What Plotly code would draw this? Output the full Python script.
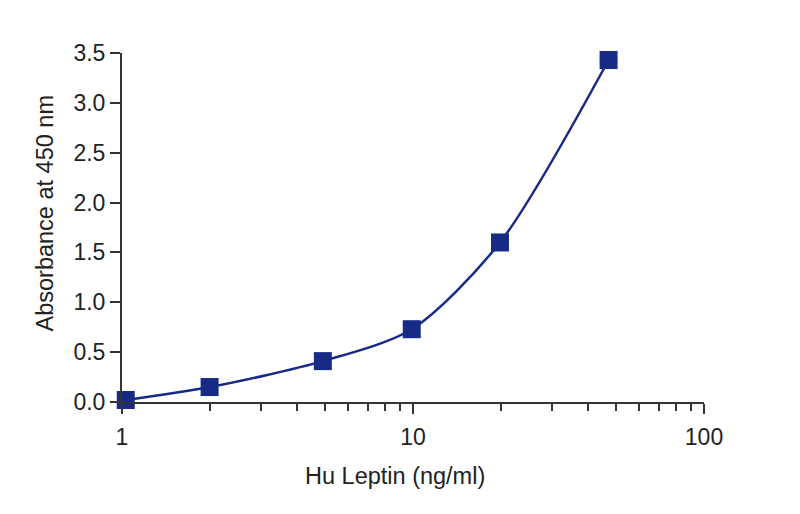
import plotly.graph_objects as go

conc = [1.03, 2.0, 4.9, 9.9, 19.9, 47.0]
absorbance = [0.02, 0.15, 0.41, 0.73, 1.60, 3.43]
x_ticks = [1, 10, 100]
x_tick_labels = ["1", "10", "100"]
y_ticks = [0, 0.5, 1.0, 1.5, 2.0, 2.5, 3.0, 3.5]
y_tick_labels = ["0.0", "0.5", "1.0", "1.5", "2.0", "2.5", "3.0", "3.5"]
x_title = "Hu Leptin (ng/ml)"
y_title = "Absorbance at 450 nm"

navy = "#172a86"
axis_col = "#333333"
font_fam = "Liberation Sans, Arial, sans-serif"

fig = go.Figure()
fig.add_trace(go.Scatter(
    x=conc, y=absorbance, mode="lines+markers",
    line=dict(color=navy, width=2.5, shape="spline", smoothing=0.8),
    marker=dict(symbol="square", size=18, color=navy),
    cliponaxis=False, showlegend=False,
))

fig.update_layout(
    width=800, height=514,
    margin=dict(l=114, r=104, t=45, b=120),
    paper_bgcolor="white", plot_bgcolor="white",
    font=dict(family=font_fam, size=23, color="#222222"),
    xaxis=dict(
        type="log", range=[0, 2],
        tickvals=x_ticks, ticktext=x_tick_labels,
        ticks="outside", ticklen=10, tickwidth=1.8, tickcolor=axis_col,
        showline=True, linecolor=axis_col, linewidth=2,
        showgrid=False, zeroline=False,
        minor=dict(ticks="outside", ticklen=7, tickwidth=1.5, tickcolor=axis_col, dtick="D1", showgrid=False),
        tickfont=dict(size=23),
        ticklabelstandoff=3,
    ),
    yaxis=dict(
        range=[0, 3.5],
        tickvals=y_ticks, ticktext=y_tick_labels,
        ticks="outside", ticklen=10, tickwidth=1.8, tickcolor=axis_col,
        showline=True, linecolor=axis_col, linewidth=2,
        showgrid=False, zeroline=False,
        tickfont=dict(size=23),
    ),
    annotations=[
        dict(text=x_title, xref="paper", yref="paper", x=0.5, y=0,
             xanchor="center", yanchor="top", xshift=-18, yshift=-59,
             showarrow=False, font=dict(size=23.5, color="#222222")),
        dict(text=y_title, xref="paper", yref="paper", x=0, y=0.5,
             xanchor="center", yanchor="middle", xshift=-78, yshift=14,
             textangle=-90, showarrow=False, font=dict(size=23.5, color="#222222")),
    ],
)

fig.write_html("out.html")
